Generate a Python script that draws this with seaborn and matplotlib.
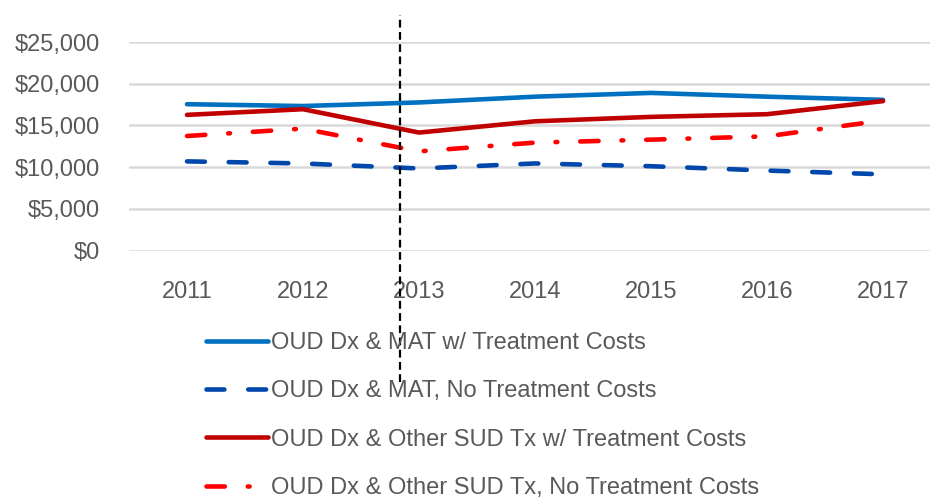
import matplotlib
matplotlib.use("Agg")
import matplotlib.pyplot as plt
import seaborn as sns
import pandas as pd

# values
years = ["2011", "2012", "2013", "2014", "2015", "2016", "2017"]
mat_with_tx = [17550, 17330, 17760, 18450, 18900, 18450, 18070]
mat_no_tx = [10700, 10450, 9850, 10450, 10120, 9600, 9150]
sud_with_tx = [16270, 16950, 14150, 15500, 16030, 16350, 17920]
sud_no_tx = [13740, 14620, 11900, 12950, 13300, 13700, 15600]
series_names = [
    "OUD Dx & MAT w/ Treatment Costs",
    "OUD Dx & MAT, No Treatment Costs",
    "OUD Dx & Other SUD Tx w/ Treatment Costs",
    "OUD Dx & Other SUD Tx, No Treatment Costs",
]
yticks = [0, 5000, 10000, 15000, 20000, 25000]

sns.set_style("white")
plt.rcParams["font.family"] = ["Liberation Sans", "DejaVu Sans"]

fig = plt.figure(figsize=(9.3, 5.01), dpi=100)
ax = fig.add_axes([129 / 930, (501 - 250.7) / 501, 812 / 930, 208.7 / 501])

colors = ["#0070C0", "#0047AB", "#C00000", "#FF0000"]
dash_styles = [None, (3.9, 5.2), None, (4.0, 5.0, 0.4, 5.0)]
values = [mat_with_tx, mat_no_tx, sud_with_tx, sud_no_tx]
lw = 3.3

for name, vals, col, ds in zip(series_names, values, colors, dash_styles):
    df = pd.DataFrame({"year": years, "cost": vals})
    sns.lineplot(data=df, x="year", y="cost", ax=ax, color=col, lw=lw,
                 label=name, legend=False, sort=False)
    line = ax.lines[-1]
    line.set_solid_capstyle("round")
    line.set_dash_capstyle("round")
    if ds is not None:
        line.set_dashes(ds)

ax.set_ylim(0, 25000)
ax.set_xlim(-0.5, 6.5)
ax.set_yticks(yticks)
ax.set_yticklabels(["${:,}".format(v) for v in yticks])
ax.grid(axis="y", color="#D9D9D9", lw=1.8)
ax.set_axisbelow(True)
for s in ax.spines.values():
    s.set_visible(False)
ax.set_xlabel("")
ax.set_ylabel("")
ax.tick_params(axis="both", length=0, labelsize=17, colors="#595959")
ax.tick_params(axis="x", pad=22)
ax.tick_params(axis="y", pad=21)

# vertical marker between 2012 and 2013
ax.axvline(1.84, ymin=-0.629, ymax=1.13, color="black", lw=1.6,
           ls=(0, (3.5, 2)), clip_on=False, zorder=5)

handles = ax.lines[:4]
leg = fig.legend(handles, series_names, loc="upper left",
                 bbox_to_anchor=(194 / 930, 1 - 320 / 501), frameon=False,
                 fontsize=17, handlelength=2.65, handletextpad=0.12,
                 labelspacing=1.12, borderpad=0, labelcolor="#595959")

fig.savefig("out.png", dpi=100)
